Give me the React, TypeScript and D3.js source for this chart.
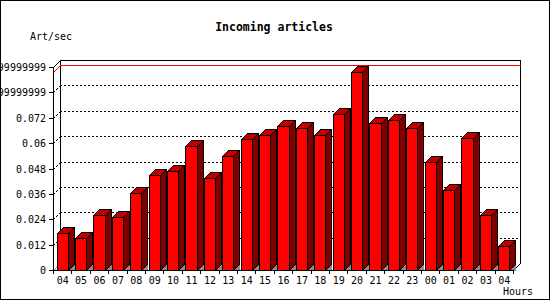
import React from 'react';
import * as d3 from 'd3';

const hours = ["04","05","06","07","08","09","10","11","12","13","14","15","16","17","18","19","20","21","22","23","00","01","02","03","04"];
const rates = [0.0173,0.0150,0.0258,0.0249,0.0362,0.0451,0.0470,0.0585,0.0437,0.0538,0.0621,0.0640,0.0679,0.0670,0.0637,0.0736,0.0934,0.0693,0.0708,0.0670,0.0509,0.0377,0.0623,0.0258,0.0112];
const yTicks = [0,0.012,0.024,0.036,0.048,0.06,0.072,0.084,0.096];
const yTickLabels = ["0","0.012","0.024","0.036","0.048","0.06","0.072","0.08399999999999","0.09599999999999"];
const title = "Incoming articles";
const yTitle = "Art/sec";
const xTitle = "Hours";

const FONT = "'DejaVu Sans Mono', monospace";

export default function App() {
  const W = 550, H = 300;
  const left = 53, right = 513, bottom = 270, top = 67;
  const d = 7; // wall depth
  const bd = 6; // bar depth
  const x = d3.scaleBand<number>()
    .domain(d3.range(hours.length))
    .range([left, right])
    .paddingInner(0.4)
    .paddingOuter(0.2);
  const y = d3.scaleLinear().domain([0, 0.096]).range([bottom, top]);
  const maxV = d3.max(rates) as number;
  const step = x.step();
  const o = 0.5;

  return (
    <svg width={W} height={H} style={{ position: 'absolute', left: 0, top: 0, display: 'block' }} shapeRendering="crispEdges">
      <rect x={0} y={0} width={W} height={H} fill="#fff" />
      <rect x={o} y={o} width={W - 1} height={H - 1} fill="none" stroke="#000" />

      {/* back wall gridlines */}
      {yTicks.slice(1, -1).map((t, i) => (
        <g key={'g' + i}>
          <line x1={left + d} x2={right + d} y1={Math.round(y(t)) - d + o} y2={Math.round(y(t)) - d + o} stroke="#000" strokeDasharray="2,2" />
          <line x1={left + o} y1={Math.round(y(t)) + o} x2={left + d + o} y2={Math.round(y(t)) - d + o} stroke="#000" strokeDasharray="2,2" />
        </g>
      ))}

      {/* back frame */}
      <line x1={left + d + o} y1={top - d + o} x2={right + d + o} y2={top - d + o} stroke="#000" />
      <line x1={left + d + o} y1={top - d + o} x2={left + d + o} y2={bottom - d + o} stroke="#000" />
      <line x1={right + d + o} y1={top - d + o} x2={right + d + o} y2={bottom - d + o} stroke="#000" />
      <line x1={right + d + o} y1={bottom - d + o} x2={right + o} y2={bottom + o} stroke="#000" />
      <line x1={left + o} y1={top + o} x2={left + d + o} y2={top - d + o} stroke="#000" />
      <line x1={left + o} y1={bottom + o} x2={left + d + o} y2={bottom - d + o} stroke="#808080" />

      {/* max line */}
      <polyline
        points={`${left + o},${Math.round(y(maxV)) + o} ${left + d + o},${Math.round(y(maxV)) - d + o} ${right + d + o},${Math.round(y(maxV)) - d + o}`}
        fill="none" stroke="#ff0000" />

      {/* bars */}
      {rates.map((v, i) => {
        const x0 = Math.round(x(i) as number) + o;
        const x1 = Math.round((x(i) as number) + x.bandwidth()) + o;
        const yt = Math.round(y(v)) + o;
        const yb = bottom + o;
        return (
          <g key={'b' + i}>
            <polygon points={`${x1},${yb} ${x1 + bd},${yb - bd} ${x1 + bd},${yb}`} fill="#8c8c8c" stroke="none" />
            <polygon points={`${x1},${yt} ${x1 + bd},${yt - bd} ${x1 + bd},${yb - bd} ${x1},${yb}`} fill="#800000" stroke="#000" />
            <polygon points={`${x0},${yt} ${x0 + bd},${yt - bd} ${x1 + bd},${yt - bd} ${x1},${yt}`} fill="#c00000" stroke="#000" />
            <rect x={x0} y={yt} width={x1 - x0} height={yb - yt} fill="#ff0000" stroke="#000" />
          </g>
        );
      })}

      {/* front axes */}
      <line x1={left + o} y1={top + o} x2={left + o} y2={bottom + o} stroke="#000" />
      <line x1={left + o} y1={bottom + o} x2={right + o} y2={bottom + o} stroke="#000" />
      {yTicks.map((t, i) => (
        <line key={'yt' + i} x1={left - 4} x2={left + o} y1={Math.round(y(t)) + o} y2={Math.round(y(t)) + o} stroke="#000" />
      ))}
      {d3.range(hours.length + 1).map(i => (
        <line key={'xt' + i} x1={Math.round(left + i * step) + o} x2={Math.round(left + i * step) + o} y1={bottom + o} y2={bottom + 4} stroke="#000" />
      ))}

      {/* labels */}
      {yTickLabels.map((s, i) => (
        <text key={'yl' + i} x={46} y={Math.round(y(yTicks[i])) + 4} textAnchor="end" fontFamily={FONT} fontSize={10} fill="#000">{s}</text>
      ))}
      {hours.map((h, i) => (
        <text key={'xl' + i} x={(x(i) as number) + x.bandwidth() / 2 + 0.5} y={284} textAnchor="middle" fontFamily={FONT} fontSize={10} fill="#000">{h}</text>
      ))}
      <text x={274} y={31} textAnchor="middle" fontFamily={FONT} fontSize={11.5} fontWeight="bold" fill="#000">{title}</text>
      <text x={30} y={40} fontFamily={FONT} fontSize={10} fill="#000">{yTitle}</text>
      <text x={533} y={295} textAnchor="end" fontFamily={FONT} fontSize={10} fill="#000">{xTitle}</text>
    </svg>
  );
}
